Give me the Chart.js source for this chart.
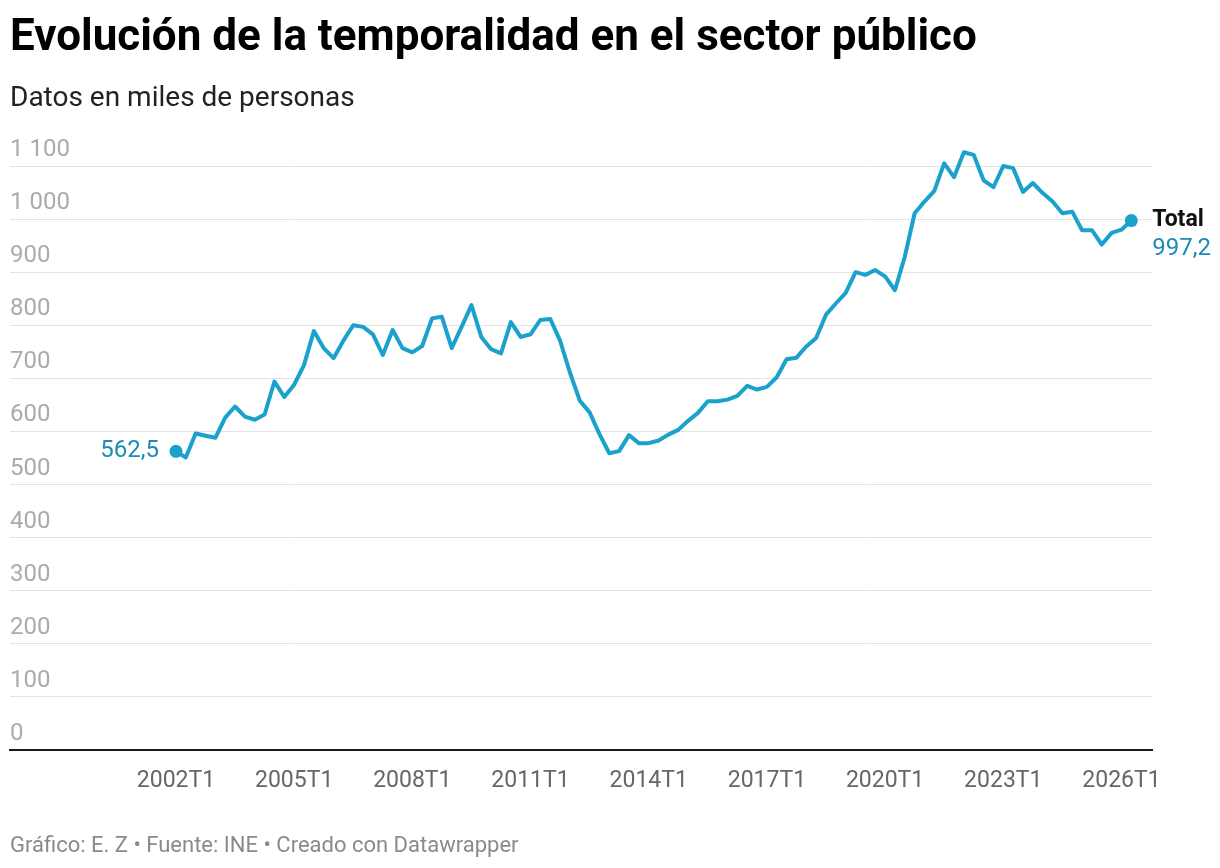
<!DOCTYPE html>
<html lang="es">
<head>
<meta charset="utf-8">
<title>Evolución de la temporalidad en el sector público</title>
<script src="https://cdn.jsdelivr.net/npm/chart.js@4.4.1/dist/chart.umd.min.js"></script>
<style>
  html, body { margin: 0; padding: 0; background: #fff; }
  body { width: 1220px; height: 868px; position: relative; overflow: hidden; font-family: Roboto, "Noto Sans", sans-serif; }
  #wrap { position: absolute; left: 0; top: 0; width: 1220px; height: 868px; }
  h1 { position: absolute; left: 10px; top: 13px; margin: 0; font-size: 44px; line-height: 1; font-weight: 700; color: #000; white-space: nowrap; }
  .sub { position: absolute; left: 10px; top: 83px; font-size: 28px; line-height: 1; color: #222; }
  .foot { position: absolute; left: 10px; top: 834px; font-size: 22px; line-height: 1; color: #8a8a8a; }
</style>
</head>
<body>
<div id="wrap"><canvas id="chart"></canvas></div>
<h1>Evolución de la temporalidad en el sector público</h1>
<div class="sub">Datos en miles de personas</div>
<div class="foot">Gráfico: E. Z • Fuente: INE • Creado con Datawrapper</div>

<script>
// Asalariados temporales en el sector público (miles), trimestral desde 2002T1
const START_YEAR = 2002;
const SERIES_NAME = 'Total';
const values = [
  562.5, 551, 596, 592, 588, 626, 647, 628, 622, 632,
  694, 665, 688, 725, 789, 757, 738, 771, 800, 797,
  783, 744, 791, 757, 749, 761, 813, 816, 757, 797,
  838, 778, 755, 747, 806, 778, 783, 810, 812, 771,
  711, 658, 636, 595, 559, 563, 593, 578, 578, 583,
  594, 603, 620, 635, 657, 657, 660, 667, 686, 679,
  684, 702, 736, 739, 760, 776, 820, 841, 861, 900,
  895, 904, 892, 866, 929, 1011, 1033, 1053, 1105, 1079,
  1126, 1121, 1073, 1060, 1100, 1096, 1051, 1068, 1049, 1033,
  1011, 1014, 979, 979, 952, 974, 980, 997.2
];
const quarters = values.map((_, i) => (START_YEAR + Math.floor(i / 4)) + 'T' + (i % 4 + 1));
const xTicks = [0, 12, 24, 36, 48, 60, 72, 84, 96];   // 2002T1 ... 2026T1
const yTicks = [0, 100, 200, 300, 400, 500, 600, 700, 800, 900, 1000, 1100];

const LINE_COLOR = '#1aa1cc';
const LABEL_COLOR = '#1b8ab6';
const FONT = 'Roboto, "Noto Sans", sans-serif';

const fmtThousands = v => String(v).replace(/\B(?=(\d{3})+(?!\d))/g, ' ');
const fmtDecimal = v => v.toFixed(1).replace('.', ',');

const endLabels = {
  id: 'endLabels',
  afterDatasetsDraw(chart) {
    const pts = chart.getDatasetMeta(0).data;
    const first = pts[0];
    const last = pts[pts.length - 1];
    const c = chart.ctx;
    c.save();
    c.textBaseline = 'middle';

    c.font = '24px ' + FONT;
    c.fillStyle = LABEL_COLOR;
    c.textAlign = 'right';
    c.fillText(fmtDecimal(values[0]), first.x - 17, first.y);

    c.textAlign = 'left';
    c.font = 'bold 23px ' + FONT;
    c.fillStyle = '#111';
    c.fillText(SERIES_NAME, last.x + 21, last.y);
    c.font = '24px ' + FONT;
    c.fillStyle = LABEL_COLOR;
    c.fillText(fmtDecimal(values[values.length - 1]), last.x + 21, last.y + 28);
    c.restore();
  }
};

const lastIdx = values.length - 1;

new Chart(document.getElementById('chart'), {
  type: 'line',
  data: {
    datasets: [{
      label: SERIES_NAME,
      data: values.map((v, i) => ({ x: i, y: v })),
      borderColor: LINE_COLOR,
      backgroundColor: LINE_COLOR,
      borderWidth: 4,
      borderJoinStyle: 'round',
      tension: 0,
      pointRadius: ctx => (ctx.dataIndex === 0 || ctx.dataIndex === lastIdx) ? 6.5 : 0,
      pointHoverRadius: ctx => (ctx.dataIndex === 0 || ctx.dataIndex === lastIdx) ? 6.5 : 0,
      pointBorderWidth: 0,
      pointBackgroundColor: LINE_COLOR,
      clip: false
    }]
  },
  options: {
    responsive: true,
    maintainAspectRatio: false,
    animation: false,
    events: [],
    layout: { padding: { left: 10, right: 68, top: 166, bottom: 68 } },
    plugins: {
      legend: { display: false },
      tooltip: { enabled: false }
    },
    scales: {
      x: {
        type: 'linear',
        min: -16.85,
        max: 99.1,
        afterBuildTicks: scale => { scale.ticks = xTicks.map(v => ({ value: v })); },
        afterFit: scale => { scale.height = 50; },
        grid: { display: false, drawTicks: false },
        border: { display: true, color: '#1a1a1a', width: 2 },
        ticks: {
          color: '#666',
          font: { family: FONT, size: 23 },
          padding: 17,
          maxRotation: 0,
          autoSkip: false,
          callback: v => quarters[v] || ''
        }
      },
      y: {
        min: 0,
        max: 1100,
        afterBuildTicks: scale => { scale.ticks = yTicks.map(v => ({ value: v })); },
        afterFit: scale => { scale.width = 0; },
        grid: { color: '#e3e3e3', lineWidth: 1, drawTicks: false },
        border: { display: false },
        ticks: {
          mirror: true,
          padding: 0,
          labelOffset: -16,
          color: '#ababab',
          font: { family: FONT, size: 24 },
          callback: v => fmtThousands(v)
        }
      }
    }
  },
  plugins: [endLabels]
});
</script>
</body>
</html>
